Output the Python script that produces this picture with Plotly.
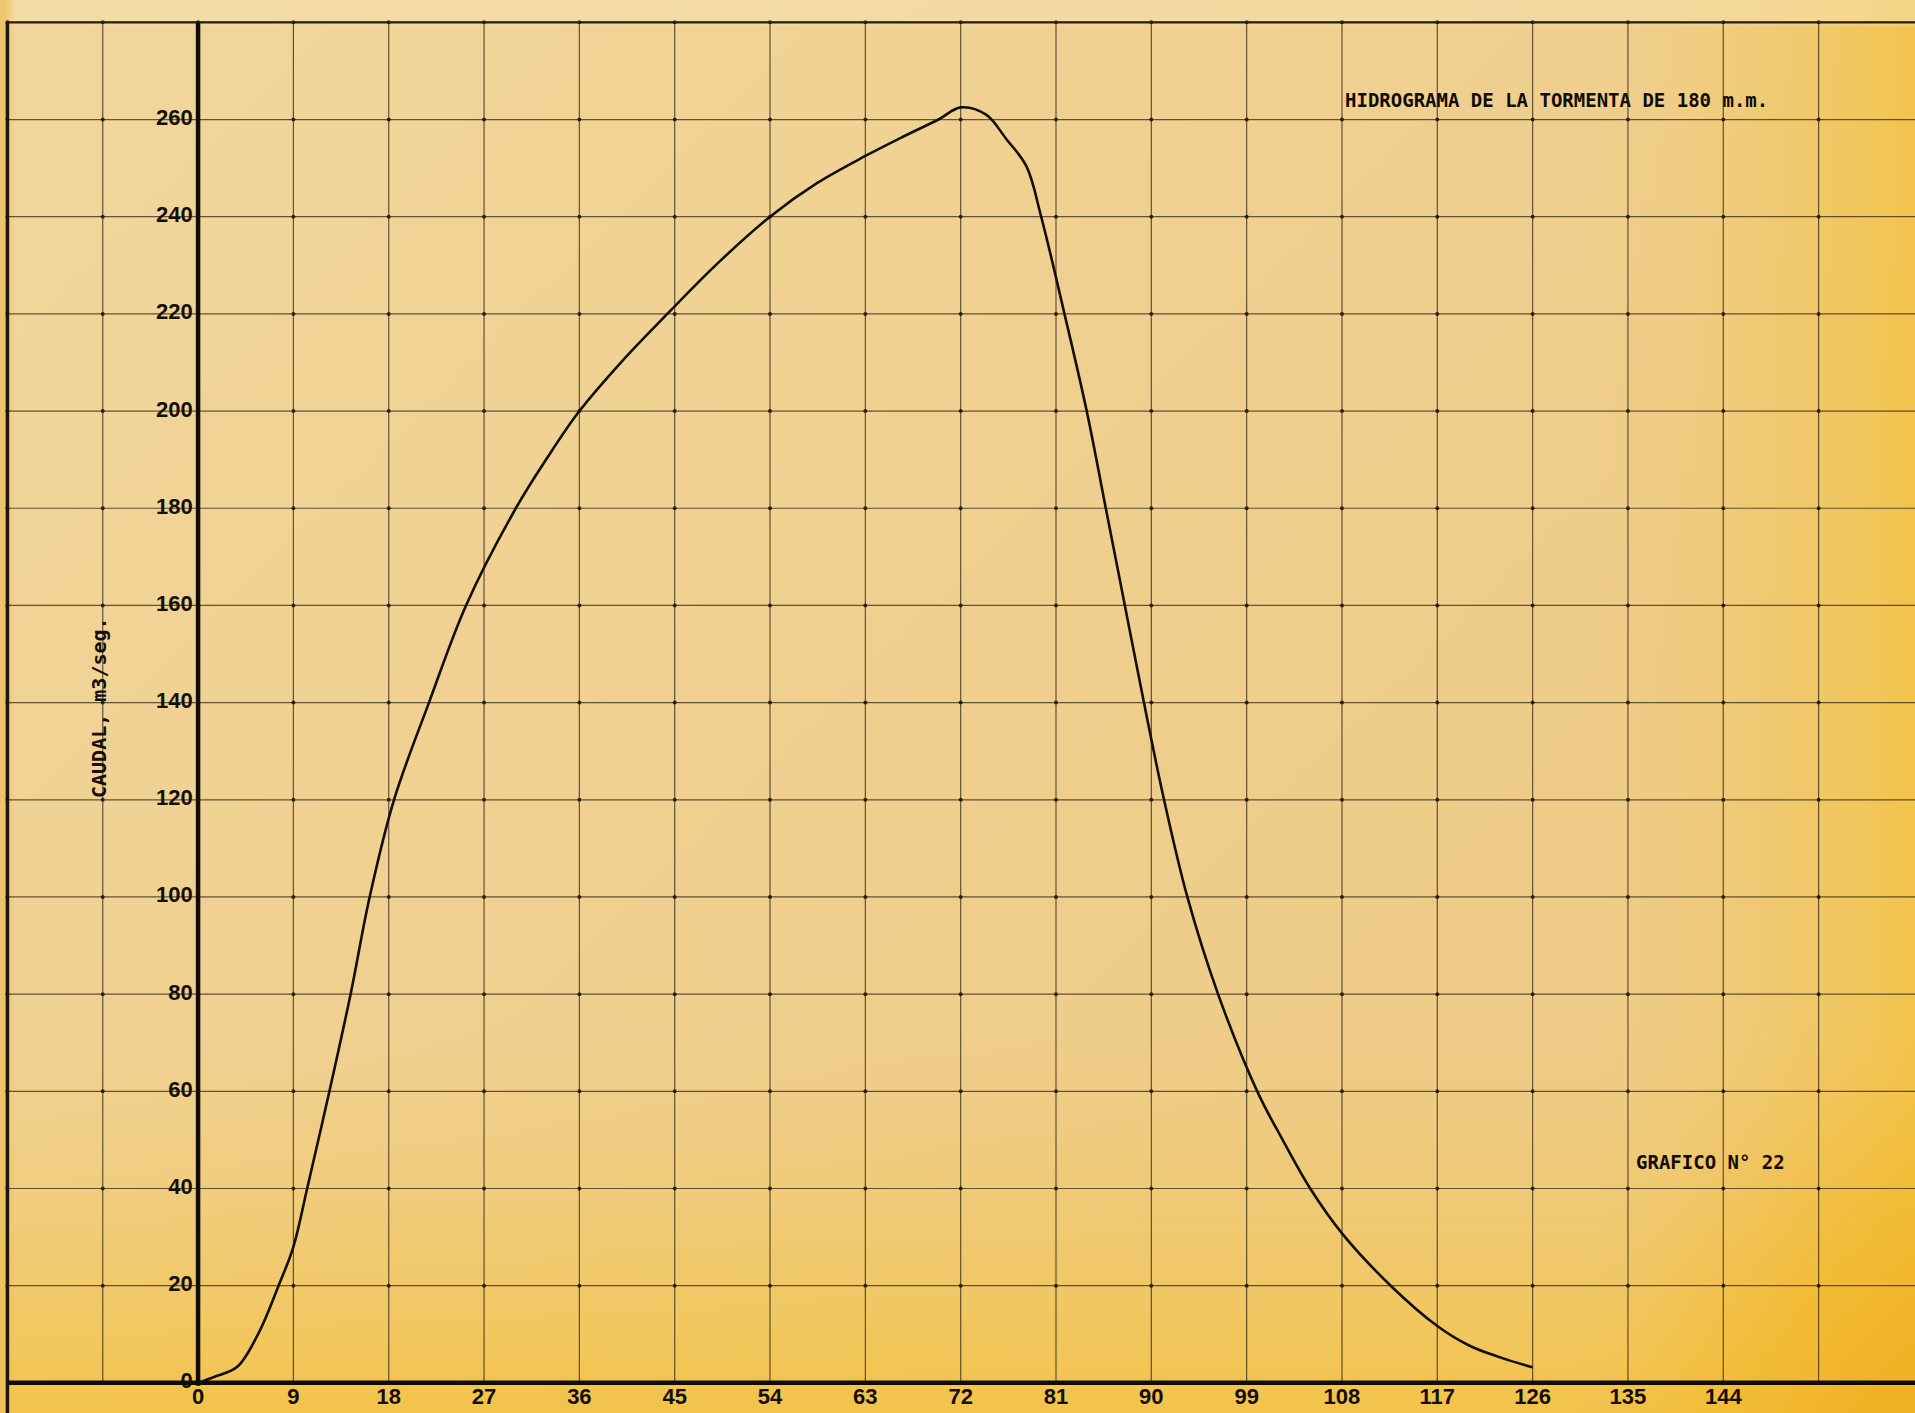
import base64
import struct
import zlib

import plotly.graph_objects as go

# ---------------- data ----------------
time_h = [0, 1.5, 3.7, 5.75, 7.6, 9, 10.3, 12.4, 14.4, 16.2, 18.5, 21.8, 25.3,
          30, 33, 36, 40, 44.3, 49, 54, 58.5, 63, 66.5, 69.9, 72, 74.4,
          76.3, 78.2, 79.6, 81.8, 83.9, 85.7, 87.5, 89.3, 91.2, 93.4, 96.3,
          100.0, 102.4, 105.0, 108.1, 112.6, 117, 120, 123, 126]
caudal = [0, 1.2, 3.3, 10.4, 20, 28, 40, 60, 80, 100, 120, 140, 160,
          180, 190.5, 200, 210.2, 220, 230.3, 240, 247, 252.5, 256.4, 260,
          262.5, 261, 256, 250.4, 240, 220, 200, 180, 160, 140, 120, 100, 80,
          60, 50, 40, 30.5, 20, 11.7, 7.7, 5.2, 3.2]

x_grid = [-18, -9, 0, 9, 18, 27, 36, 45, 54, 63, 72, 81, 90, 99, 108, 117,
          126, 135, 144, 153]
x_tick_labels = [0, 9, 18, 27, 36, 45, 54, 63, 72, 81, 90, 99, 108, 117, 126,
                 135, 144]
y_grid = [0, 20, 40, 60, 80, 100, 120, 140, 160, 180, 200, 220, 240, 260, 280]
y_tick_labels = [0, 20, 40, 60, 80, 100, 120, 140, 160, 180, 200, 220, 240, 260]

title_text = "HIDROGRAMA DE LA TORMENTA DE 180 m.m."
chart_no_text = "GRAFICO N° 22"
y_title_text = "CAUDAL, m3/seg."

X_RANGE = [-18.7, 162.1]
Y_RANGE = [-6.2, 284.6]
W, H = 1915, 1413


# ---------------- paper background (scanned yellow sheet) ----------------
def clamp(t):
    return max(0.0, min(1.0, t))


def lerp(a, b, t):
    return tuple(a[k] + (b[k] - a[k]) * t for k in range(3))


def paper_color(u, v):
    light = (242, 214, 156)
    mid = (238, 204, 136)
    c = lerp(light, mid, clamp((u * 0.8 + v * 0.6)))
    fb = clamp((v - 0.72) / 0.28) ** 1.6
    fr = clamp((u - 0.83) / 0.17) ** 1.6
    f = clamp(fb * 0.85 + fr * 0.8)
    c = lerp(c, (243, 194, 64), f)
    corner = clamp(fb * fr * 1.3)
    c = lerp(c, (241, 178, 38), corner)
    if v < 0.016:
        c = lerp(c, (246, 224, 172), 0.6)
    if u < 0.0025:
        c = lerp(c, (236, 190, 90), 0.7)
    return tuple(int(round(x)) for x in c)


def make_png(w, h):
    raw = bytearray()
    for j in range(h):
        raw.append(0)
        for i in range(w):
            raw += bytes(paper_color(i / (w - 1), j / (h - 1)))

    def chunk(t, d):
        return (struct.pack(">I", len(d)) + t + d +
                struct.pack(">I", zlib.crc32(t + d) & 0xFFFFFFFF))

    png = (b"\x89PNG\r\n\x1a\n" +
           chunk(b"IHDR", struct.pack(">IIBBBBB", w, h, 8, 2, 0, 0, 0)) +
           chunk(b"IDAT", zlib.compress(bytes(raw), 9)) +
           chunk(b"IEND", b""))
    return "data:image/png;base64," + base64.b64encode(png).decode()


bg_src = make_png(192, 282)

# ---------------- figure ----------------
fig = go.Figure()

grid_color = "rgba(45,32,20,0.72)"

# vertical grid lines (0..280)
gx, gy = [], []
for xv in x_grid:
    gx += [xv, xv, None]
    gy += [y_grid[0], y_grid[-1], None]
# horizontal grid lines
for yv in y_grid[1:]:
    gx += [x_grid[0], X_RANGE[1], None]
    gy += [yv, yv, None]
fig.add_trace(go.Scatter(x=gx, y=gy, mode="lines",
                         line=dict(color=grid_color, width=1.2),
                         hoverinfo="skip", showlegend=False))

# intersection dots
dx, dy = [], []
for xv in x_grid:
    for yv in y_grid[1:]:
        dx.append(xv)
        dy.append(yv)
fig.add_trace(go.Scatter(x=dx, y=dy, mode="markers",
                         marker=dict(color="rgba(30,20,10,0.85)", size=4),
                         hoverinfo="skip", showlegend=False))

# top border (280) and left border (-18)
fig.add_trace(go.Scatter(x=[x_grid[0], X_RANGE[1]], y=[y_grid[-1], y_grid[-1]],
                         mode="lines", line=dict(color="#2a1e12", width=2.2),
                         hoverinfo="skip", showlegend=False))
fig.add_trace(go.Scatter(x=[x_grid[0], x_grid[0]], y=[Y_RANGE[0], y_grid[-1]],
                         mode="lines", line=dict(color="#1e150c", width=3.5),
                         hoverinfo="skip", showlegend=False))

# thick axes
fig.add_trace(go.Scatter(x=[x_grid[0], X_RANGE[1]], y=[0, 0], mode="lines",
                         line=dict(color="#120c06", width=4.5),
                         hoverinfo="skip", showlegend=False))
fig.add_trace(go.Scatter(x=[0, 0], y=[-0.6, y_grid[-1]], mode="lines",
                         line=dict(color="#120c06", width=4.5),
                         hoverinfo="skip", showlegend=False))

# hydrograph
fig.add_trace(go.Scatter(x=time_h, y=caudal, mode="lines",
                         line=dict(color="#140e08", width=2.6, shape="spline",
                                   smoothing=1.0),
                         name="Caudal", showlegend=False))

y_tick_font = dict(family="Liberation Sans, Arial, sans-serif", size=22,
                   color="#150f08")
x_tick_font = dict(family="Liberation Sans, Arial, sans-serif", size=22,
                   color="#150f08")

# y tick labels
fig.add_trace(go.Scatter(x=[-0.5] * len(y_tick_labels), y=y_tick_labels,
                         mode="text", text=[f"<b>{v}</b>" for v in y_tick_labels],
                         textposition="middle left", textfont=y_tick_font,
                         hoverinfo="skip", showlegend=False))
# x tick labels
fig.add_trace(go.Scatter(x=x_tick_labels, y=[-3.2] * len(x_tick_labels),
                         mode="text", text=[f"<b>{v}</b>" for v in x_tick_labels],
                         textposition="middle center", textfont=x_tick_font,
                         hoverinfo="skip", showlegend=False))

mono_bold = dict(family="DejaVu Sans Mono, monospace", size=19, color="#120c06")

fig.add_annotation(x=108.1, y=264, xref="x", yref="y", text=f"<b>{title_text}</b>",
                   showarrow=False, xanchor="left", yanchor="middle", font=mono_bold)
fig.add_annotation(x=135.6, y=45.5, xref="x", yref="y", text=f"<b>{chart_no_text}</b>",
                   showarrow=False, xanchor="left", yanchor="middle",
                   font=dict(family="DejaVu Sans Mono, monospace", size=19,
                             color="#120c06"))
fig.add_annotation(x=-9.3, y=139, xref="x", yref="y", text=f"<b>{y_title_text}</b>",
                   showarrow=False, textangle=-90, xanchor="center",
                   yanchor="middle",
                   font=dict(family="DejaVu Sans Mono, monospace", size=20,
                             color="#150f08"))

fig.add_layout_image(dict(source=bg_src, xref="paper", yref="paper", x=0, y=1,
                          sizex=1, sizey=1, sizing="stretch", layer="below",
                          xanchor="left", yanchor="top"))

fig.update_layout(
    width=W, height=H,
    margin=dict(l=0, r=0, t=0, b=0),
    paper_bgcolor="#EDCB86",
    plot_bgcolor="rgba(0,0,0,0)",
    xaxis=dict(range=X_RANGE, visible=False, fixedrange=True),
    yaxis=dict(range=Y_RANGE, visible=False, fixedrange=True),
    showlegend=False,
)

fig.write_html("out.html")
